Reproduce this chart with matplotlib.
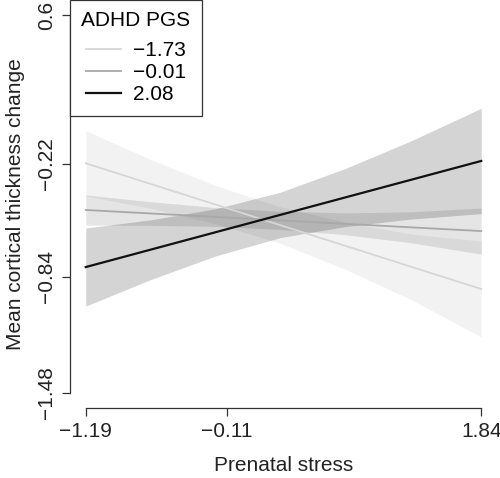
import matplotlib
matplotlib.use("Agg")
import matplotlib.pyplot as plt

plt.rcParams['font.family'] = ['Liberation Sans', 'DejaVu Sans']

# prenatal stress positions where the bands were read
stress = [-1.19, -0.7, -0.2, 0.3, 0.8, 1.3, 1.84]
line_x = [-1.19, 1.84]

pgs_labels = ["\u22121.73", "\u22120.01", "2.08"]

# fitted lines at the two ends
fit_low = [-0.216, -0.908]
fit_mid = [-0.473, -0.589]
fit_high = [-0.787, -0.203]

# confidence bands
upper_low = [-0.036, -0.193, -0.337, -0.456, -0.540, -0.605, -0.644]
lower_low = [-0.396, -0.463, -0.547, -0.656, -0.800, -0.965, -1.172]
upper_mid = [-0.390, -0.427, -0.459, -0.480, -0.489, -0.483, -0.462]
lower_mid = [-0.556, -0.557, -0.563, -0.580, -0.609, -0.653, -0.716]
upper_high = [-0.572, -0.528, -0.467, -0.375, -0.244, -0.093, 0.087]
lower_high = [-1.002, -0.858, -0.727, -0.625, -0.564, -0.523, -0.493]

x_ticks = [-1.19, -0.11, 1.84]
y_ticks = [0.6, -0.22, -0.84, -1.48]
x_tick_labels = ["\u22121.19", "\u22120.11", "1.84"]
y_tick_labels = ["0.6", "\u22120.22", "\u22120.84", "\u22121.48"]

line_colors = ["#d6d6d6", "#a8a8a8", "#111111"]
band_alpha = [0.05, 0.10, 0.17]

fig = plt.figure(figsize=(5.0, 4.78), dpi=100)
ax = fig.add_axes([0.14, 0.1464, 0.854, 0.8536])

bands = [(upper_low, lower_low), (upper_mid, lower_mid), (upper_high, lower_high)]
for (up, lo), a in zip(bands, band_alpha):
  ax.fill_between(stress, lo, up, color="black", alpha=a, linewidth=0)

handles = []
for fit, c, lab in zip([fit_low, fit_mid, fit_high], line_colors, pgs_labels):
  lw = 1.6 if c == "#111111" else 1.3
  h, = ax.plot(line_x, fit, color=c, linewidth=lw, label=lab)
  handles.append(h)

ax.set_xlim(-1.311, 1.961)
ax.set_ylim(-1.563, 0.683)

for s in ["top", "right"]:
  ax.spines[s].set_visible(False)
ax.spines["left"].set_bounds(-1.48, 0.6)
ax.spines["bottom"].set_bounds(-1.19, 1.84)
for s in ["left", "bottom"]:
  ax.spines[s].set_color("#333333")
  ax.spines[s].set_linewidth(0.9)

ax.set_xticks(x_ticks)
ax.set_xticklabels(x_tick_labels)
ax.set_yticks(y_ticks)
ax.set_yticklabels(y_tick_labels, rotation=90, va="center")
ax.tick_params(axis="both", length=6, width=0.9, color="#333333",
               labelsize=15, labelcolor="#222222", pad=4)

ax.set_xlabel("Prenatal stress", fontsize=15, color="#222222", labelpad=11)
ax.set_ylabel("Mean cortical thickness change", fontsize=15, color="#222222", labelpad=9)

leg = ax.legend(handles=handles, title="ADHD PGS", loc="upper left",
                bbox_to_anchor=(0, 1.0), borderaxespad=0, fontsize=15,
                title_fontsize=15, frameon=True, fancybox=False,
                edgecolor="#333333", framealpha=1, handlelength=1.7,
                handletextpad=0.6, labelspacing=0.15, borderpad=0.55)
leg.get_frame().set_linewidth(0.9)
# more room between the title and the entries, as in R's legend()
leg._legend_box.sep = 7.5

fig.savefig("out.png", dpi=100)
